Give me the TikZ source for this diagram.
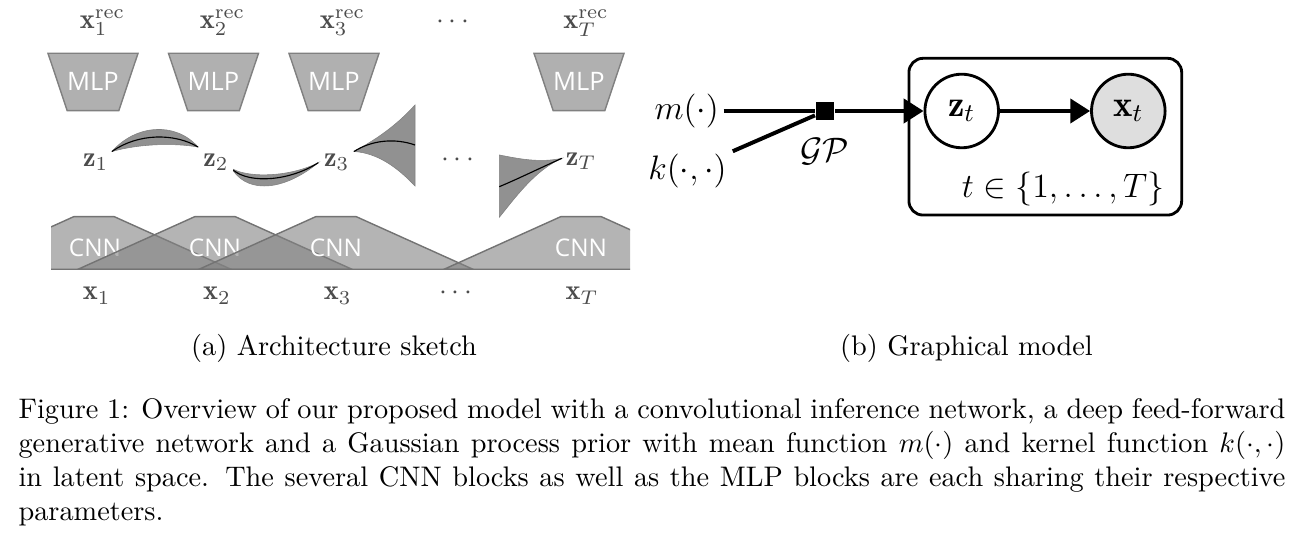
\documentclass[tikz,border=0pt]{standalone}
\usepackage{amsmath,amsfonts}
\usepackage{fontspec}
\newfontfamily\blocksf{Open Sans}
\usetikzlibrary{positioning,arrows.meta}

\begin{document}
\begin{tikzpicture}[x=0.3534pt, y=-0.3534pt,
	lbl/.style = {text=black!70, inner sep=0pt, anchor=base},
	mlp/.style = {fill=black!31, draw=black!50, line width=0.5pt},
	cnn/.style = {fill=black!49, fill opacity=0.6, draw=black!55, line width=0.5pt},
	blocktext/.style = {text=white, inner sep=0pt},
	band/.style = {fill=black!43, draw=black!50, line width=0.2pt},
	mean/.style = {draw=black, line width=0.4pt},
	gm/.style = {font=\fontsize{13}{15}\selectfont},
	latent/.style = {gm, circle, draw, line width=1pt, minimum size=26pt, inner sep=0pt},
	obs/.style = {latent, fill=black!13},
	edge/.style = {line width=1.4pt, -{Triangle[length=7pt,width=8.5pt]}}]
	\useasboundingbox (0,0) rectangle (1316,542);

	% (a) architecture sketch
	\node (xr1) [lbl] at (102.5,28.3) {$\mathbf{x}_1^{\mathrm{rec}}$};
	\node (xr2) [lbl] at (222.5,28.3) {$\mathbf{x}_2^{\mathrm{rec}}$};
	\node (xr3) [lbl] at (342.5,28.3) {$\mathbf{x}_3^{\mathrm{rec}}$};
	\node (xrdots) [lbl] at (455,28.3) {$\cdots$};
	\node (xrT) [lbl] at (586,28.3) {$\mathbf{x}_T^{\mathrm{rec}}$};

	\draw[mlp] (48,53.3) -- ++(90,0) -- ++(-19.2,57.4) -- ++(-51.6,0) -- cycle;
	\draw[mlp] (168.5,53.3) -- ++(90,0) -- ++(-19.2,57.4) -- ++(-51.6,0) -- cycle;
	\draw[mlp] (289,53.3) -- ++(90,0) -- ++(-19.2,57.4) -- ++(-51.6,0) -- cycle;
	\draw[mlp] (534,53.3) -- ++(90,0) -- ++(-19.2,57.4) -- ++(-51.6,0) -- cycle;
	\node (mlp1) [blocktext, font=\blocksf\fontsize{9}{9}\selectfont] at (93,81) {MLP};
	\node (mlp2) [blocktext, font=\blocksf\fontsize{9}{9}\selectfont] at (213.5,81) {MLP};
	\node (mlp3) [blocktext, font=\blocksf\fontsize{9}{9}\selectfont] at (334,81) {MLP};
	\node (mlpT) [blocktext, font=\blocksf\fontsize{9}{9}\selectfont] at (579,81) {MLP};

	\node (z1) [lbl] at (95.8,166.5) {$\mathbf{z}_1$};
	\node (z2) [lbl] at (216,166.5) {$\mathbf{z}_2$};
	\node (z3) [lbl] at (336.7,166.5) {$\mathbf{z}_3$};
	\node (zdots) [lbl] at (460,166.5) {$\cdots$};
	\node (zT) [lbl] at (581,165.5) {$\mathbf{z}_T$};

	\filldraw[band] (112,151.5) .. controls (135,125) and (175,121) .. (198,147) .. controls (175,143) and (140,143.5) .. cycle;
	\draw[mean] (112,151.5) .. controls (138,133) and (175,133) .. (198,147);
	\filldraw[band] (233.3,169.3) .. controls (250,178) and (290,177) .. (318.3,162.7) .. controls (285,190) and (250,194) .. (233.3,171) -- cycle;
	\draw[mean] (233.3,170.2) .. controls (250,184) and (290,181) .. (318.3,162.7);
	\filldraw[band] (354,151.5) .. controls (375,140) and (395,127) .. (415,105) -- (415,186) .. controls (398,168) and (378,153) .. cycle;
	\draw[mean] (354,151.5) .. controls (372,140) and (395,138) .. (415,145);
	\filldraw[band] (499.3,155) .. controls (520,159) and (540,163) .. (562,158.3) .. controls (535,170) and (515,198) .. (499.3,217.3) -- cycle;
	\draw[mean] (499.3,186.7) .. controls (520,178) and (540,168) .. (562,158.3);

	\begin{scope}
		\clip (51,200) rectangle (630,271);
		\draw[cnn] (-43,269.3) -- ++(116.7,-52.6) -- ++(40.6,0) -- ++(116.7,52.6) -- cycle;
		\node (cnn1) [blocktext, font=\blocksf\fontsize{8.6}{8.6}\selectfont] at (95,247.7) {CNN};
		\draw[cnn] (78,269.3) -- ++(116.7,-52.6) -- ++(40.6,0) -- ++(116.7,52.6) -- cycle;
		\node (cnn2) [blocktext, font=\blocksf\fontsize{8.6}{8.6}\selectfont] at (215,247.7) {CNN};
		\draw[cnn] (199,269.3) -- ++(116.7,-52.6) -- ++(40.6,0) -- ++(116.7,52.6) -- cycle;
		\node (cnn3) [blocktext, font=\blocksf\fontsize{8.6}{8.6}\selectfont] at (336,247.7) {CNN};
		\draw[cnn] (444,269.3) -- ++(116.7,-52.6) -- ++(40.6,0) -- ++(116.7,52.6) -- cycle;
		\node (cnnT) [blocktext, font=\blocksf\fontsize{8.6}{8.6}\selectfont] at (581,247.7) {CNN};
	\end{scope}

	\node (x1) [lbl] at (96.7,300) {$\mathbf{x}_1$};
	\node (x2) [lbl] at (217,300) {$\mathbf{x}_2$};
	\node (x3) [lbl] at (337.7,300) {$\mathbf{x}_3$};
	\node (xdots) [lbl] at (458,300) {$\cdots$};
	\node (xT) [lbl] at (582,300) {$\mathbf{x}_T$};

	% (b) graphical model
	\node (m) [gm, inner sep=1.5pt] at (686.7,111) {$m(\cdot)$};
	\node (k) [gm, inner sep=2pt] at (687.5,171) {$k(\cdot,\cdot)$};
	\node (gp) [fill, inner sep=0pt, minimum size=6.7pt] at (825,111) {};
	\node (gplabel) [gm, below=2.5pt of gp] {$\mathcal{GP}$};
	\node (zt) [latent] at (961.7,111) {$\mathbf{z}_t$};
	\node (xt) [obs] at (1128.3,111) {$\mathbf{x}_t$};
	\node (plate) [draw, line width=1pt, rounded corners=5pt, minimum width=96.4pt, minimum height=55.4pt] at (1045.3,136.7) {};
	\node (range) [gm, anchor=base east, inner sep=0pt] at (1165,198) {$t \in \{1,\ldots,T\}$};
	\draw[line width=1.4pt] (m) -- (gp);
	\draw[line width=1.4pt] (k) -- (gp);
	\draw[edge] (gp) -- (zt);
	\draw[edge] (zt) -- (xt);

	% captions
	\node (capa) [anchor=base] at (334,356) {(a) Architecture sketch};
	\node (capb) [anchor=base] at (966.5,356) {(b) Graphical model};
	\node (caption) [anchor=north west, text width=447.7pt, align=justify, inner sep=0pt] at (18,398.4) {Figure 1: Overview of our proposed model with a convolutional inference network, a deep feed-forward\linebreak generative network and a Gaussian process prior with mean function $m(\cdot)$ and kernel function $k(\cdot,\cdot)$\linebreak in latent space. The several CNN blocks as well as the MLP blocks are each sharing their respective\linebreak parameters.};
\end{tikzpicture}
\end{document}
